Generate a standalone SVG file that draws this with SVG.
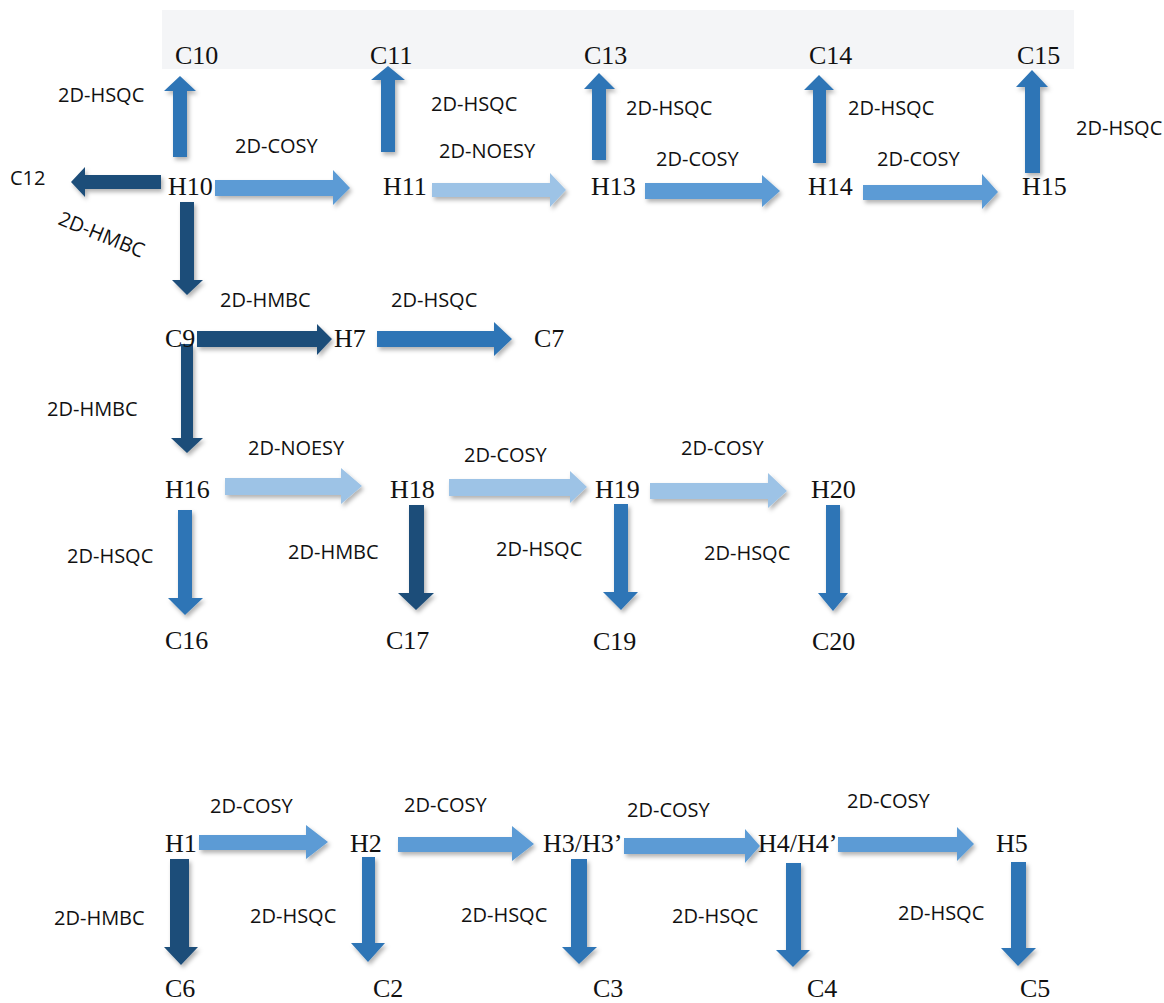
<svg xmlns="http://www.w3.org/2000/svg" width="1164" height="1003" viewBox="0 0 1164 1003">
<style>
.n{font-family:"Liberation Serif","Times New Roman",serif;font-size:26px;fill:#111}
.l{font-family:"Open Sans","Liberation Sans",sans-serif;font-size:20px;fill:#111}
.hsqc{fill:#2e75b6}
.cosy{fill:#5b9bd5}
.noesy{fill:#9dc3e6}
.hmbc{fill:#1f4e79}
</style>
<defs>
<filter id="sh" x="-20%" y="-20%" width="140%" height="140%">
<feDropShadow dx="2" dy="3" stdDeviation="2" flood-color="#000" flood-opacity="0.3"/>
</filter>
</defs>
<rect x="162" y="10" width="912" height="59" fill="#f4f5f7"/>
<g id="connectors" filter="url(#sh)">
<polygon class="hsqc" points="173,157 173,91 164,91 180,76 196,91 187,91 187,157"/>
<polygon class="hsqc" points="381,152 381,80 371,80 388,66 405,80 395,80 395,152"/>
<polygon class="hsqc" points="592,160 592,89 584,89 599,73 615,89 606,89 606,160"/>
<polygon class="hsqc" points="813,163 813,90 804,90 819,75 834,90 826,90 826,163"/>
<polygon class="hsqc" points="1025,173 1025,87 1016,87 1032,70 1048,87 1040,87 1040,173"/>
<polygon class="hmbc" points="161,175 85,175 85,167 71,182 85,197 85,189 161,189"/>
<polygon class="cosy" points="215,180 333,180 333,170 350,188 333,205 333,196 215,196"/>
<polygon class="noesy" points="432,183 550,183 550,173 566,190 550,207 550,197 432,197"/>
<polygon class="cosy" points="645,183 762,183 762,175 780,191 762,207 762,199 645,199"/>
<polygon class="cosy" points="863,185 982,185 982,174 998,192 982,209 982,200 863,200"/>
<polygon class="hmbc" points="180,202 194,202 194,280 203,280 187,295 172,280 180,280"/>
<polygon class="hmbc" points="197,331 317,331 317,324 332,339 317,355 317,347 197,347"/>
<polygon class="hsqc" points="377,331 494,331 494,322 512,339 494,356 494,347 377,347"/>
<polygon class="hmbc" points="181,344 193,344 193,438 203,438 187,453 171,438 181,438"/>
<polygon class="noesy" points="225,478 341,478 341,468 362,486 341,504 341,495 225,495"/>
<polygon class="noesy" points="449,479 570,479 570,471 587,487 570,503 570,496 449,496"/>
<polygon class="noesy" points="650,483 768,483 768,473 787,491 768,508 768,499 650,499"/>
<polygon class="hsqc" points="178,510 192,510 192,598 203,598 185,615 168,598 178,598"/>
<polygon class="hmbc" points="409,505 424,505 424,593 434,593 416,610 398,593 409,593"/>
<polygon class="hsqc" points="614,504 628,504 628,592 638,592 621,610 603,592 614,592"/>
<polygon class="hsqc" points="826,505 840,505 840,593 848,593 833,611 818,593 826,593"/>
<polygon class="cosy" points="199,835 306,835 306,825 328,842 306,859 306,850 199,850"/>
<polygon class="cosy" points="398,837 512,837 512,826 534,844 512,861 512,852 398,852"/>
<polygon class="cosy" points="624,838 745,838 745,829 760,846 745,863 745,854 624,854"/>
<polygon class="cosy" points="838,837 957,837 957,827 974,844 957,861 957,852 838,852"/>
<polygon class="hmbc" points="170,859 189,859 189,947 198,947 181,965 164,947 170,947"/>
<polygon class="hsqc" points="362,857 375,857 375,943 385,943 368,962 351,943 362,943"/>
<polygon class="hsqc" points="571,859 587,859 587,947 597,947 579,964 562,947 571,947"/>
<polygon class="hsqc" points="786,863 801,863 801,950 810,950 793,967 776,950 786,950"/>
<polygon class="hsqc" points="1011,862 1026,862 1026,948 1036,948 1018,966 1001,948 1011,948"/>
</g>
<g id="labels">
<text class="l" x="58" y="102">2D-HSQC</text>
<text class="l" x="235" y="153">2D-COSY</text>
<text class="l" transform="translate(57,224) rotate(22)">2D-HMBC</text>
<text class="l" x="431" y="111">2D-HSQC</text>
<text class="l" x="439" y="158">2D-NOESY</text>
<text class="l" x="626" y="115">2D-HSQC</text>
<text class="l" x="656" y="166">2D-COSY</text>
<text class="l" x="848" y="115">2D-HSQC</text>
<text class="l" x="877" y="166">2D-COSY</text>
<text class="l" x="1076" y="135">2D-HSQC</text>
<text class="l" x="220" y="307">2D-HMBC</text>
<text class="l" x="391" y="307">2D-HSQC</text>
<text class="l" x="47" y="416">2D-HMBC</text>
<text class="l" x="248" y="455">2D-NOESY</text>
<text class="l" x="464" y="462">2D-COSY</text>
<text class="l" x="681" y="455">2D-COSY</text>
<text class="l" x="67" y="563">2D-HSQC</text>
<text class="l" x="288" y="559">2D-HMBC</text>
<text class="l" x="496" y="556">2D-HSQC</text>
<text class="l" x="704" y="560">2D-HSQC</text>
<text class="l" x="210" y="813">2D-COSY</text>
<text class="l" x="404" y="812">2D-COSY</text>
<text class="l" x="627" y="817">2D-COSY</text>
<text class="l" x="847" y="808">2D-COSY</text>
<text class="l" x="54" y="925">2D-HMBC</text>
<text class="l" x="250" y="923">2D-HSQC</text>
<text class="l" x="461" y="922">2D-HSQC</text>
<text class="l" x="672" y="923">2D-HSQC</text>
<text class="l" x="898" y="920">2D-HSQC</text>
</g>
<g id="C10"><text class="n" x="175" y="64">C10</text></g>
<g id="C11"><text class="n" x="370" y="64">C11</text></g>
<g id="C13"><text class="n" x="584" y="64">C13</text></g>
<g id="C14"><text class="n" x="809" y="64">C14</text></g>
<g id="C15"><text class="n" x="1017" y="64">C15</text></g>
<g id="C12"><text class="l" x="10" y="185">C12</text></g>
<g id="H10"><text class="n" x="168" y="195">H10</text></g>
<g id="H11"><text class="n" x="383" y="195">H11</text></g>
<g id="H13"><text class="n" x="591" y="195">H13</text></g>
<g id="H14"><text class="n" x="808" y="195">H14</text></g>
<g id="H15"><text class="n" x="1022" y="195">H15</text></g>
<g id="C9"><text class="n" x="165" y="347">C9</text></g>
<g id="H7"><text class="n" x="334" y="347">H7</text></g>
<g id="C7"><text class="n" x="534" y="347">C7</text></g>
<g id="H16"><text class="n" x="165" y="498">H16</text></g>
<g id="H18"><text class="n" x="390" y="498">H18</text></g>
<g id="H19"><text class="n" x="595" y="498">H19</text></g>
<g id="H20"><text class="n" x="811" y="498">H20</text></g>
<g id="C16"><text class="n" x="165" y="649">C16</text></g>
<g id="C17"><text class="n" x="386" y="649">C17</text></g>
<g id="C19"><text class="n" x="593" y="650">C19</text></g>
<g id="C20"><text class="n" x="812" y="650">C20</text></g>
<g id="H1"><text class="n" x="165" y="852">H1</text></g>
<g id="H2"><text class="n" x="350" y="852">H2</text></g>
<g id="H3"><text class="n" x="543" y="852">H3/H3’</text></g>
<g id="H4"><text class="n" x="758" y="852">H4/H4’</text></g>
<g id="H5"><text class="n" x="996" y="852">H5</text></g>
<g id="C6"><text class="n" x="165" y="997">C6</text></g>
<g id="C2"><text class="n" x="373" y="997">C2</text></g>
<g id="C3"><text class="n" x="593" y="997">C3</text></g>
<g id="C4"><text class="n" x="807" y="997">C4</text></g>
<g id="C5"><text class="n" x="1020" y="997">C5</text></g>
</svg>
